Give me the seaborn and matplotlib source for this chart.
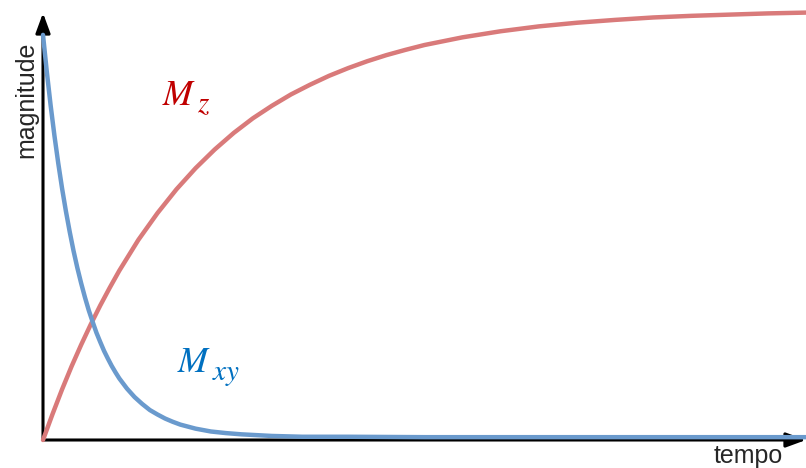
import matplotlib
matplotlib.use("Agg")
import matplotlib.pyplot as plt
import seaborn as sns
import pandas as pd

# Relaxation of the magnetisation after an excitation pulse
t_xy = [0.0, 0.05, 0.1, 0.15, 0.2, 0.25, 0.3, 0.35, 0.4, 0.45, 0.5, 0.55,
        0.6, 0.65, 0.7, 0.75, 0.8, 0.85, 0.9, 0.95, 1.0, 1.1, 1.2, 1.3, 1.4,
        1.5, 1.6, 1.7, 1.8, 1.9, 2.0, 2.2, 2.4, 2.6, 2.8, 3.0, 3.4, 4.0, 5.0,
        6.0, 7.0, 8.0, 9.0, 10.0]
m_xy = [1.000, 0.909, 0.826, 0.751, 0.683, 0.621, 0.565, 0.514, 0.467, 0.425,
        0.387, 0.352, 0.320, 0.292, 0.265, 0.242, 0.220, 0.201, 0.183, 0.167,
        0.152, 0.127, 0.106, 0.089, 0.074, 0.063, 0.053, 0.045, 0.038, 0.033,
        0.028, 0.021, 0.017, 0.014, 0.012, 0.010, 0.008, 0.008, 0.007, 0.007,
        0.007, 0.007, 0.007, 0.007]

t_z = [0.0, 0.125, 0.25, 0.375, 0.5, 0.625, 0.75, 0.875, 1.0, 1.25, 1.5,
       1.75, 2.0, 2.25, 2.5, 2.75, 3.0, 3.25, 3.5, 3.75, 4.0, 4.25, 4.5, 4.75,
       5.0, 5.5, 6.0, 6.5, 7.0, 7.5, 8.0, 8.5, 9.0, 9.5, 10.0]
m_z = [0.000, 0.064, 0.125, 0.182, 0.235, 0.285, 0.332, 0.376, 0.418, 0.494,
       0.560, 0.619, 0.671, 0.717, 0.758, 0.794, 0.825, 0.853, 0.877, 0.899,
       0.918, 0.935, 0.950, 0.963, 0.975, 0.994, 1.009, 1.021, 1.030, 1.037,
       1.043, 1.047, 1.050, 1.053, 1.055]

x_label = "tempo"
y_label = "magnitude"
label_main = r"$M$"
sub_z = r"$z$"
sub_xy = r"$xy$"

red_line = "#d97a7a"
blue_line = "#6a9acd"
red_text = "#c00000"
blue_text = "#0070c0"

sns.set_style("white")
plt.rcParams["font.family"] = ["Liberation Sans", "DejaVu Sans"]
plt.rcParams["mathtext.fontset"] = "stix"

W, H = 806, 468
fig = plt.figure(figsize=(W / 100, H / 100), dpi=100)
x0, x1 = 43, 806
y0, y1 = 440, 13
ax = fig.add_axes([x0 / W, 1 - y0 / H, (x1 - x0) / W, (y0 - y1) / H])
ax.set_xlim(0, 10)
ax.set_ylim(0, 1.054)
ax.axis("off")

# axes drawn as arrows
arrow_kw = dict(arrowstyle="-|>,head_length=0.6,head_width=0.22", lw=2.2,
                color="black", shrinkA=0, shrinkB=0, mutation_scale=20)
ax.annotate("", xy=(0, 1.054), xytext=(0, 0), arrowprops=arrow_kw,
            annotation_clip=False, zorder=1)
ax.annotate("", xy=(10, 0), xytext=(0, 0), arrowprops=arrow_kw,
            annotation_clip=False, zorder=1)

df_z = pd.DataFrame({"t": t_z, "m": m_z})
df_xy = pd.DataFrame({"t": t_xy, "m": m_xy})
sns.lineplot(data=df_z, x="t", y="m", ax=ax, color=red_line, lw=3.2,
             zorder=3, clip_on=False)
sns.lineplot(data=df_xy, x="t", y="m", ax=ax, color=blue_line, lw=3.2,
             zorder=4, clip_on=False)


def curve_label(x_m, y_m, x_sub, y_sub, sub, color):
    fig.text(x_m / W, 1 - y_m / H, label_main, color=color, fontsize=26,
             ha="left", va="baseline")
    fig.text(x_sub / W, 1 - y_sub / H, sub, color=color, fontsize=21,
             ha="left", va="baseline")


curve_label(162, 105, 197, 112, sub_z, red_text)
curve_label(177, 372, 212, 380, sub_xy, blue_text)

fig.text(748 / W, 1 - 463 / H, x_label, fontsize=18, ha="center",
         va="baseline")
fig.text(26 / W, 1 - 100 / H, y_label, fontsize=18, rotation=90,
         ha="center", va="center")

fig.savefig("out.png", dpi=100)
